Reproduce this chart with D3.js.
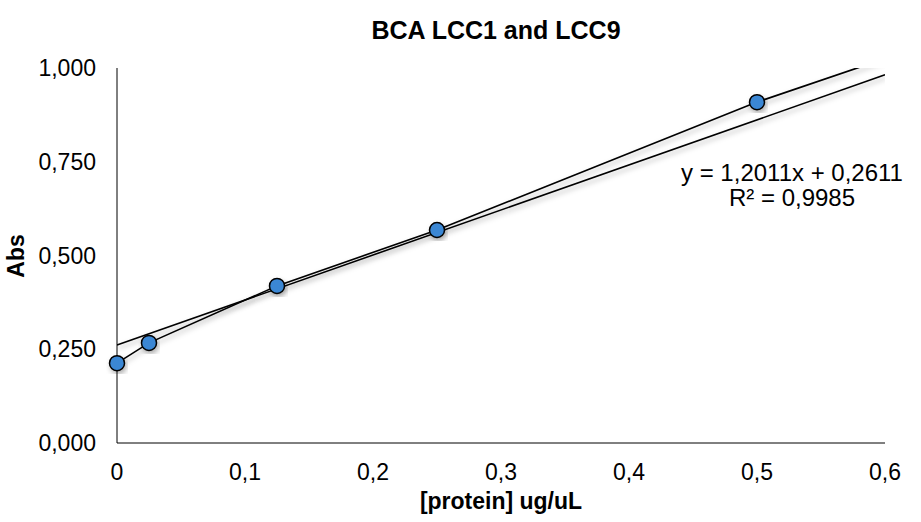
<!DOCTYPE html>
<html>
<head>
<meta charset="utf-8">
<script src="https://cdn.jsdelivr.net/npm/d3@7"></script>
<style>
  body { margin: 0; background: #fff; }
  text { font-family: Arial, "Liberation Sans", sans-serif; fill: #000; }
</style>
</head>
<body>
<svg id="chart" width="921" height="522"></svg>
<script>
// measured points (last one sits above the plot and gets clipped)
const conc = [0, 0.025, 0.125, 0.25, 0.5, 1.0];
const abs = [0.213, 0.267, 0.419, 0.568, 0.909, 1.49];
const xTicks = [0, 0.1, 0.2, 0.3, 0.4, 0.5, 0.6];
const yTicks = [0, 0.25, 0.5, 0.75, 1.0];
const slope = 1.2011, intercept = 0.2611;
const eqLines = ["y = 1,2011x + 0,2611", "R² = 0,9985"];

const svg = d3.select("#chart");
const m = {left: 117, right: 36, top: 68, bottom: 79};
const W = 921, H = 522;

const x = d3.scaleLinear().domain([0, 0.6]).range([m.left, W - m.right]);
const y = d3.scaleLinear().domain([0, 1]).range([H - m.bottom, m.top]);
const fmt = (d, n) => d.toFixed(n).replace(".", ",");

const defs = svg.append("defs");
defs.append("clipPath").attr("id", "plot")
  .append("rect")
  .attr("x", x(0)).attr("y", y(1))
  .attr("width", x(0.6) - x(0)).attr("height", y(0) - y(1));
defs.append("filter").attr("id", "shadow")
  .attr("x", "-20%").attr("y", "-20%").attr("width", "140%").attr("height", "140%")
  .append("feDropShadow")
  .attr("dx", 1.5).attr("dy", 3).attr("stdDeviation", 2.5)
  .attr("flood-color", "#000").attr("flood-opacity", 0.3);

svg.append("text")
  .attr("x", 496).attr("y", 39)
  .attr("text-anchor", "middle")
  .style("font-size", "25px").style("font-weight", "bold")
  .text("BCA LCC1 and LCC9");

// axes
svg.append("line")
  .attr("x1", x(0)).attr("x2", x(0)).attr("y1", y(1)).attr("y2", y(0))
  .attr("stroke", "#000");
svg.append("line")
  .attr("x1", x(0)).attr("x2", x(0.6)).attr("y1", y(0)).attr("y2", y(0))
  .attr("stroke", "#000");

svg.selectAll(".ytick").data(yTicks).enter()
  .append("text")
  .attr("x", 96).attr("y", d => y(d))
  .attr("dy", "0.35em")
  .attr("text-anchor", "end")
  .style("font-size", "23px")
  .text(d => fmt(d, 3));

svg.selectAll(".xtick").data(xTicks).enter()
  .append("text")
  .attr("x", d => x(d)).attr("y", 480)
  .attr("text-anchor", "middle")
  .style("font-size", "23px")
  .text(d => d == 0 ? "0" : fmt(d, 1));

svg.append("text")
  .attr("x", x(0.3)).attr("y", 509)
  .attr("text-anchor", "middle")
  .style("font-size", "23px").style("font-weight", "bold")
  .text("[protein] ug/uL");

svg.append("text")
  .attr("transform", "translate(24,256) rotate(-90)")
  .attr("text-anchor", "middle")
  .style("font-size", "23px").style("font-weight", "bold")
  .text("Abs");

const g = svg.append("g").attr("clip-path", "url(#plot)");
const pts = conc.map((c, i) => ({x: c, y: abs[i]}));

// linear trendline
g.append("path")
  .datum([0, 0.6].map(v => ({x: v, y: slope * v + intercept})))
  .attr("d", d3.line().x(d => x(d.x)).y(d => y(d.y)))
  .attr("fill", "none").attr("stroke", "#000").attr("stroke-width", 1.6)
  .attr("filter", "url(#shadow)");

g.append("path")
  .datum(pts)
  .attr("d", d3.line().x(d => x(d.x)).y(d => y(d.y)))
  .attr("fill", "none").attr("stroke", "#000").attr("stroke-width", 1.6)
  .attr("filter", "url(#shadow)");

svg.selectAll(".pt").data(pts.filter(d => d.y <= 1)).enter()
  .append("circle")
  .attr("cx", d => x(d.x)).attr("cy", d => y(d.y))
  .attr("r", 7.5)
  .attr("fill", "#3b87d4").attr("stroke", "#000").attr("stroke-width", 1.5)
  .attr("filter", "url(#shadow)");

svg.selectAll(".eq").data(eqLines).enter()
  .append("text")
  .attr("x", 792).attr("y", (d, i) => 181 + i * 25)
  .attr("text-anchor", "middle")
  .style("font-size", "24px")
  .text(d => d);
</script>
</body>
</html>
